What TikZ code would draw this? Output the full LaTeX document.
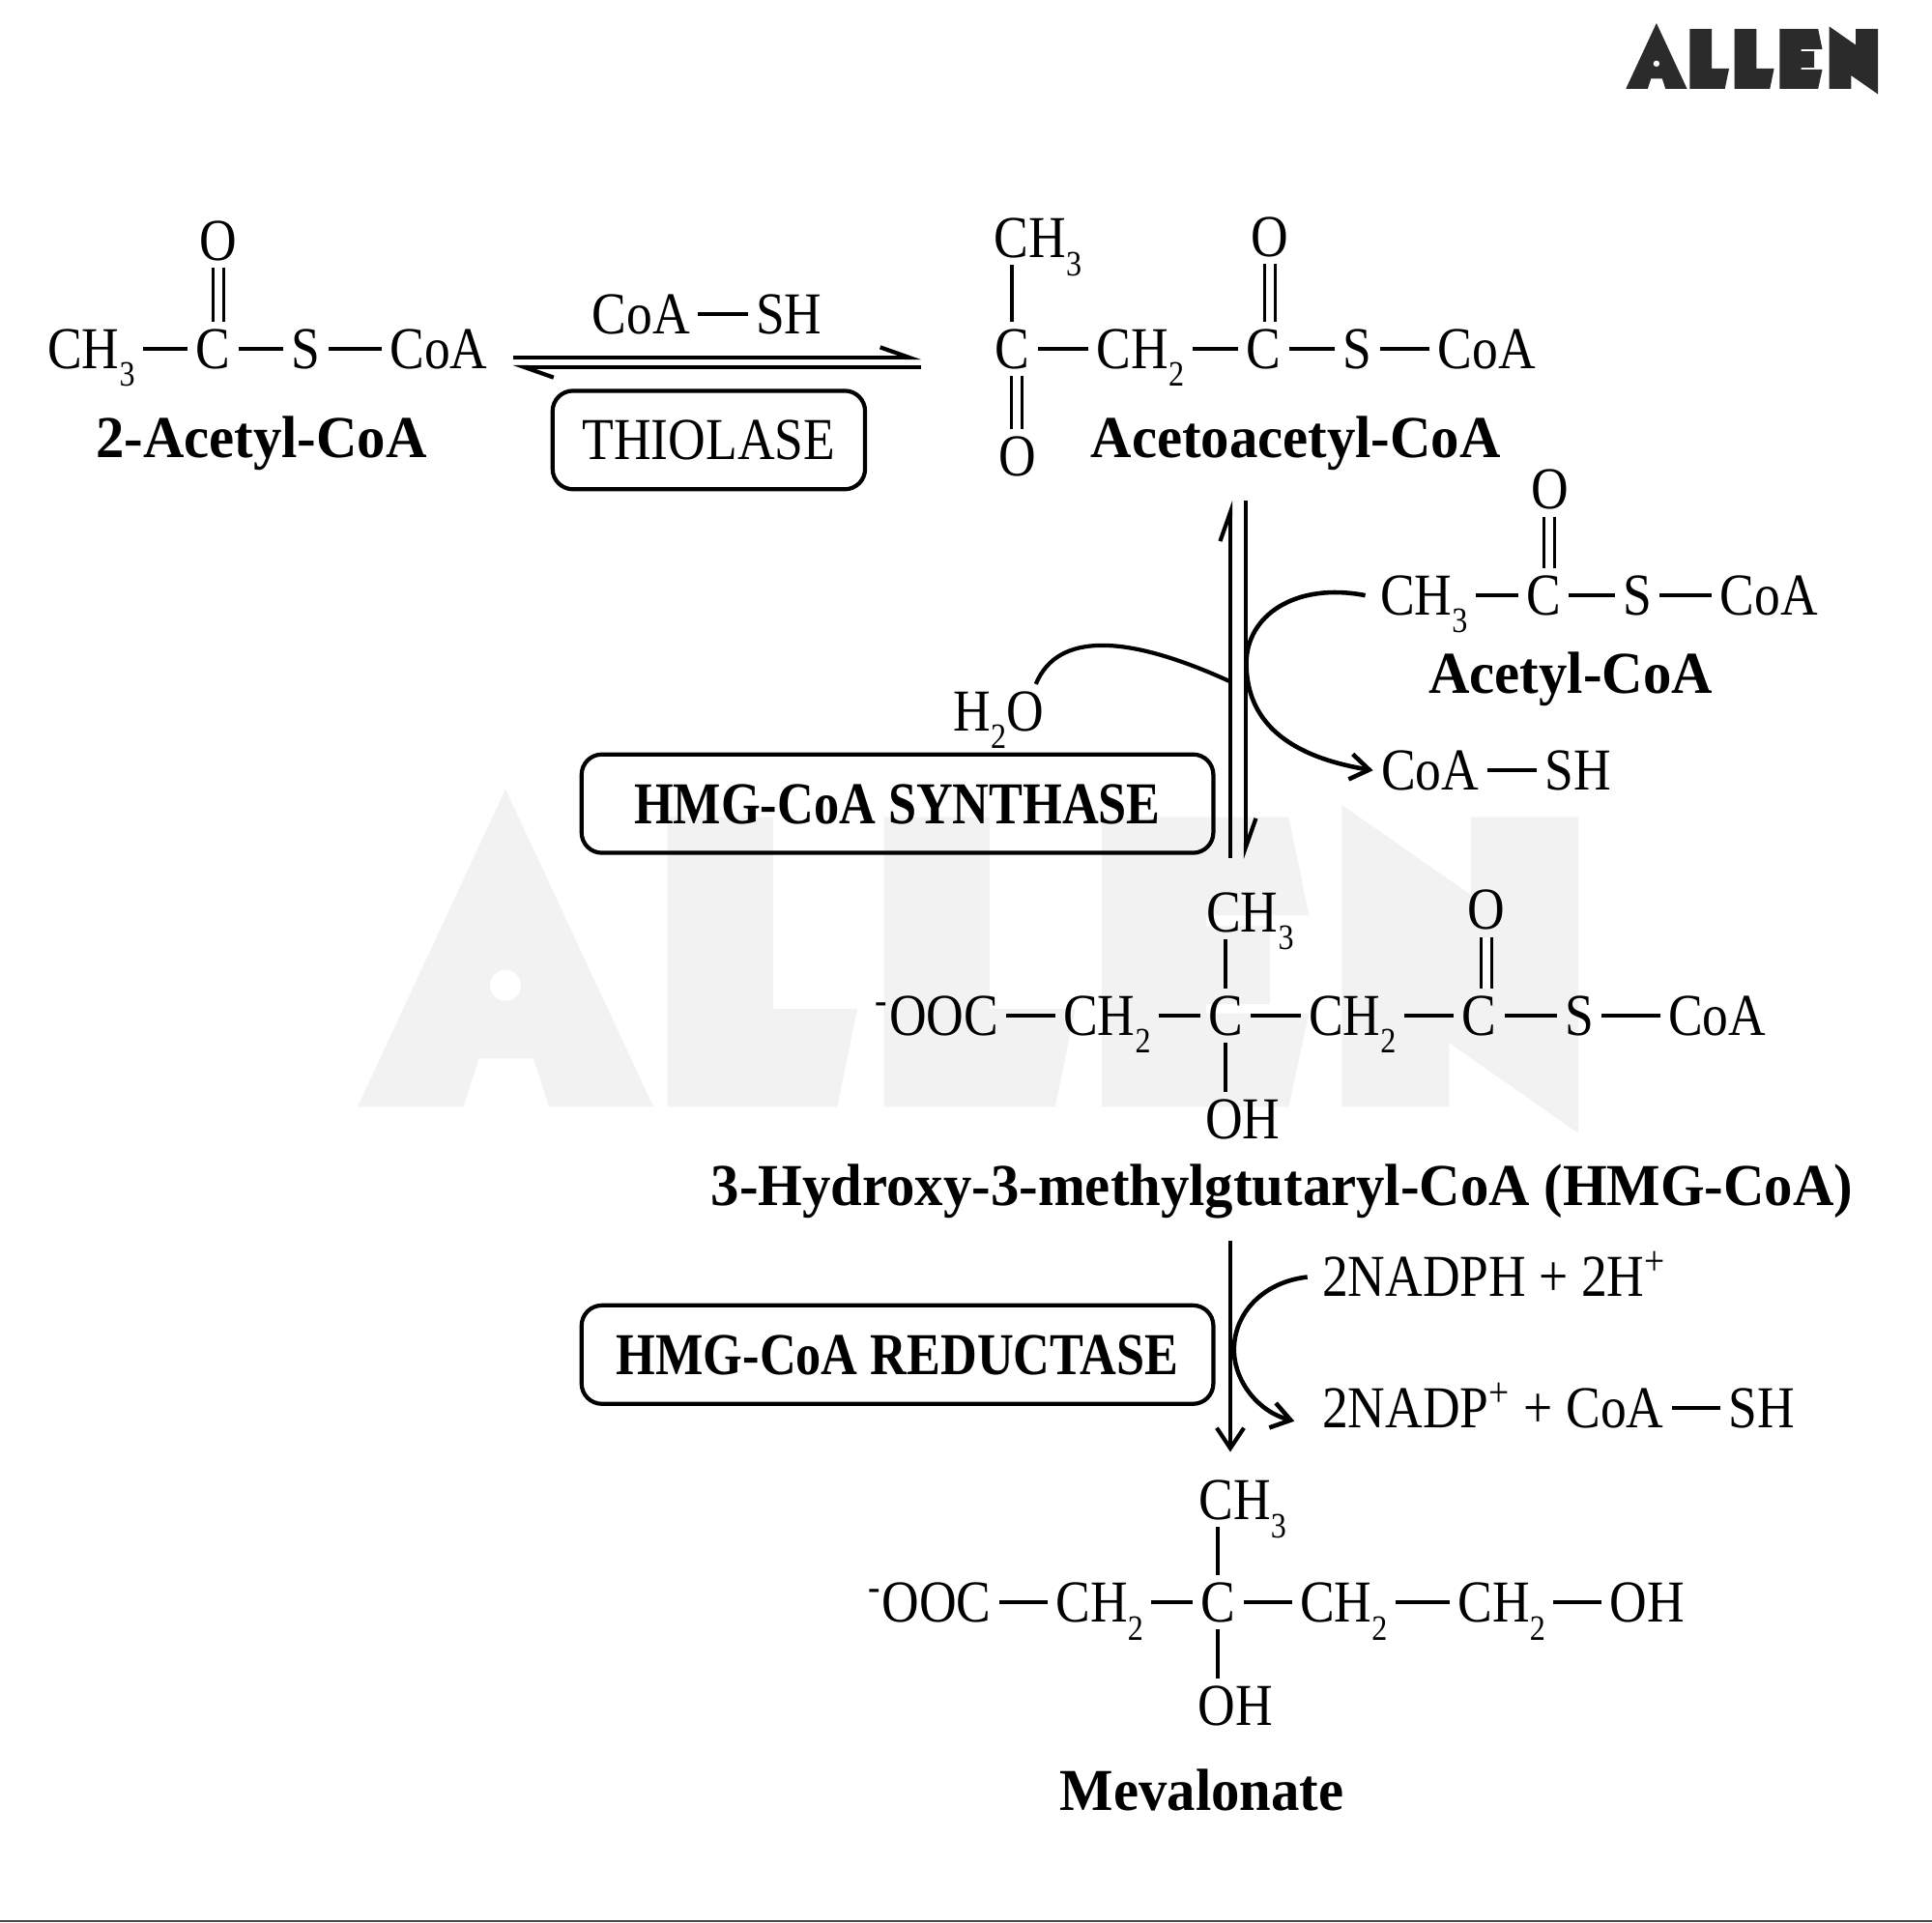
\documentclass[tikz,border=0pt]{standalone}
\usepackage{fontspec}
\setmainfont[FakeStretch=0.87]{Liberation Serif}
\newfontfamily\labelfont[FakeStretch=0.955]{Liberation Serif}
\newfontfamily\boxfont[FakeStretch=0.85]{Liberation Serif}
\usetikzlibrary{arrows.meta}

\newcommand{\chemsub}[1]{\raisebox{-0.3em}{\fontsize{10.5}{10.5}\selectfont #1}}
\newcommand{\allenmark}[4]{
	\begin{scope}[shift={(#1,#2)},x=#3cm,y=-#3cm]
		\fill[#4,even odd rule] (192,72) -- (287,276) -- (220,276) -- (210,245) -- (175,245) -- (165,276) -- (97,276) -- cycle (192,198) circle (10);
		\fill[#4] (296,90) -- (364,90) -- (364,213) -- (418,213) -- (405,276) -- (296,276) -- cycle;
		\fill[#4] (435,90) -- (503,90) -- (503,213) -- (558,213) -- (545,276) -- (435,276) -- cycle;
		\fill[#4] (575,90) -- (695,90) -- (708,153) -- (642,153) -- (642,160) -- (683,160) -- (683,210) -- (642,210) -- (642,216) -- (708,216) -- (695,276) -- (575,276) -- cycle;
		\fill[#4] (729,82) -- (812,140) -- (812,90) -- (881,90) -- (881,293) -- (798,235) -- (798,276) -- (729,276) -- cycle;
	\end{scope}
}

\begin{document}
\begin{tikzpicture}[x=0.012755cm,y=-0.012755cm,
		every node/.style={font=\fontsize{17.5}{20}\selectfont},
		atom/.style={inner xsep=2.2pt,inner ysep=2pt,yshift=0.35pt,text height=11.6pt,text depth=0pt},
		compound/.style={font=\fontsize{17.5}{20}\selectfont\labelfont\bfseries,inner sep=0pt},
		enzyme/.style={draw,line width=1.2pt,rounded corners=6pt,minimum height=29pt,inner sep=0pt,text height=11.6pt,text depth=0pt},
		boxlabel/.style={font=\fontsize{17.5}{20}\selectfont\boxfont\bfseries},
		bond/.style={line width=1.2pt},
		vbond/.style={line width=1pt},
		dblbond/.style={double,double distance=2.2pt,line width=0.9pt},
		rxn/.style={line width=1.2pt},
		harp/.style={rxn,-{Straight Barb[left,length=8.5pt,width=6pt]}},
		openarrow/.style={line width=1.3pt,-{Straight Barb[length=5.5pt,width=7.5pt]}}]
		\useasboundingbox (0,0) rectangle (1567.2,1559.4);
		\allenmark{167.5}{549.3}{0.01611}{black!5}
		\allenmark{1293.6}{0}{0.003333}{black!83}
		\draw[line width=0.8pt,black!70] (0,1558.6) -- (1567.2,1558.6);

		\node[atom] (oa) at (177,196) {O};
		\node[atom] (cha) at (74,284) {CH\chemsub{3}};
		\node[atom] (ca) at (173,284) {C};
		\node[atom] (sa) at (248,284) {S};
		\node[atom] (coaa) at (356,284) {CoA};
		\node[compound] (acetyl2) at (212,360) {2-Acetyl-CoA};
		\draw[bond] (cha.east) -- (ca.west);
		\draw[bond] (ca.east) -- (sa.west);
		\draw[bond] (sa.east) -- (coaa.west);
		\draw[dblbond] (oa.south) -- (oa.south |- ca.north);

		\node[atom] (coab) at (520,256) {CoA};
		\node[atom] (shb) at (640,256) {SH};
		\draw[bond] (coab.east) -- (shb.west);
		\coordinate (eqal) at (416,290);
		\coordinate (eqar) at (747,290);
		\coordinate (eqbr) at (747,298);
		\coordinate (eqbl) at (416,298);
		\draw[harp] (eqal) -- (eqar);
		\draw[harp] (eqbr) -- (eqbl);
		\node[enzyme,minimum width=92pt] (thiolase) at (575,357) {THIOLASE};

		\node[atom] (chc) at (842,194) {CH\chemsub{3}};
		\node[atom] (cc) at (821,284) {C};
		\node[atom] (oc) at (825,371) {O};
		\node[atom] (chtc) at (925,284) {CH\chemsub{2}};
		\node[atom] (ccc) at (1025,284) {C};
		\node[atom] (sc) at (1101,284) {S};
		\node[atom] (coac) at (1206,284) {CoA};
		\node[atom] (occ) at (1030,193) {O};
		\node[compound] (acetoacetyl) at (1051,360) {Acetoacetyl-CoA};
		\draw[vbond] (cc.north) -- (cc.north |- chc.south);
		\draw[dblbond] (oc.north) -- (oc.north |- cc.south);
		\draw[bond] (cc.east) -- (chtc.west);
		\draw[bond] (chtc.east) -- (ccc.west);
		\draw[bond] (ccc.east) -- (sc.west);
		\draw[bond] (sc.east) -- (coac.west);
		\draw[dblbond] (occ.south) -- (occ.south |- ccc.north);

		\coordinate (eqcb) at (998,696);
		\coordinate (eqct) at (998,406);
		\coordinate (eqdt) at (1010.5,406);
		\coordinate (eqdb) at (1010.5,697);
		\draw[harp] (eqcb) -- (eqct);
		\draw[harp] (eqdt) -- (eqdb);

		\node[atom] (od) at (1257,398) {O};
		\node[atom] (chd) at (1155,484) {CH\chemsub{3}};
		\node[atom] (cd) at (1252,484) {C};
		\node[atom] (sd) at (1328,484) {S};
		\node[atom] (coad) at (1435,484) {CoA};
		\node[compound] (acetyl) at (1274,551) {Acetyl-CoA};
		\draw[bond] (chd.east) -- (cd.west);
		\draw[bond] (cd.east) -- (sd.west);
		\draw[bond] (sd.east) -- (coad.west);
		\draw[dblbond] (od.south) -- (od.south |- cd.north);

		\node[atom] (coae) at (1160,626) {CoA};
		\node[atom] (she) at (1280,626) {SH};
		\draw[bond] (coae.east) -- (she.west);
		\draw[openarrow] ([xshift=-2pt]chd.west) .. controls (1050,472) and (1011,500) .. (1011,538) .. controls (1011,578) and (1035,612) .. (coae.west);

		\node[atom] (water) at (810,578) {H\chemsub{2}O};
		\coordinate (waterend) at (998,553);
		\draw[rxn] ([xshift=-4.7pt]water.north east) .. controls (858,512) and (915,515) .. (waterend);
		\node[enzyme,boxlabel,minimum width=186pt] (synthase) at (728,652) {HMG-CoA SYNTHASE};

		\node[atom] (oohf) at (760,825) {\textsuperscript{-}OOC};
		\node[atom] (chtf) at (898,825) {CH\chemsub{2}};
		\node[atom] (cf) at (994,825) {C};
		\node[atom] (chttf) at (1097,825) {CH\chemsub{2}};
		\node[atom] (ccf) at (1200,825) {C};
		\node[atom] (sf) at (1281,825) {S};
		\node[atom] (coaf) at (1393,825) {CoA};
		\node[atom] (chf) at (1014,741) {CH\chemsub{3}};
		\node[atom] (of) at (1206,739) {O};
		\node[atom] (ohf) at (1008,909) {OH};
		\node[compound] (hmg) at (1040,967) {3-Hydroxy-3-methylgtutaryl-CoA (HMG-CoA)};
		\draw[bond] (oohf.east) -- (chtf.west);
		\draw[bond] (chtf.east) -- (cf.west);
		\draw[bond] (cf.east) -- (chttf.west);
		\draw[bond] (chttf.east) -- (ccf.west);
		\draw[bond] (ccf.east) -- (sf.west);
		\draw[bond] (sf.east) -- (coaf.west);
		\draw[vbond] (cf.north) -- (cf.north |- chf.south);
		\draw[vbond] (cf.south) -- (cf.south |- ohf.north);
		\draw[dblbond] (of.south) -- (of.south |- ccf.north);

		\coordinate (redtop) at (998,1007);
		\coordinate (redtip) at (998,1178);
		\draw[rxn,-{Straight Barb[length=6pt,width=8pt]}] (redtop) -- (redtip);
		\node[enzyme,boxlabel,minimum width=186pt] (reductase) at (728,1099) {HMG-CoA REDUCTASE};
		\node[atom,anchor=west] (nadph) at (1066,1037) {2NADPH + 2H\textsuperscript{+}};
		\node[atom,anchor=west] (nadp) at (1066,1143) {2NADP\textsuperscript{+} + CoA};
		\node[atom] (shg) at (1429,1143) {SH};
		\draw[bond] (nadp.east) -- (shg.west);
		\coordinate (nadptip) at (1050,1153);
		\draw[openarrow] ([xshift=-2pt]nadph.west) .. controls (1025,1040) and (1001,1065) .. (1001,1095) .. controls (1001,1120) and (1020,1145) .. (nadptip);

		\node[atom] (oohm) at (754,1301) {\textsuperscript{-}OOC};
		\node[atom] (chtm) at (892,1301) {CH\chemsub{2}};
		\node[atom] (cm) at (988,1301) {C};
		\node[atom] (chttm) at (1090,1301) {CH\chemsub{2}};
		\node[atom] (chtttm) at (1218,1301) {CH\chemsub{2}};
		\node[atom] (ohtm) at (1336,1301) {OH};
		\node[atom] (chm) at (1008,1218) {CH\chemsub{3}};
		\node[atom] (ohm) at (1002,1385) {OH};
		\node[compound] (mevalonate) at (975,1452) {Mevalonate};
		\draw[bond] (oohm.east) -- (chtm.west);
		\draw[bond] (chtm.east) -- (cm.west);
		\draw[bond] (cm.east) -- (chttm.west);
		\draw[bond] (chttm.east) -- (chtttm.west);
		\draw[bond] (chtttm.east) -- (ohtm.west);
		\draw[vbond] (cm.north) -- (cm.north |- chm.south);
		\draw[vbond] (cm.south) -- (cm.south |- ohm.north);
	\end{tikzpicture}
\end{document}
